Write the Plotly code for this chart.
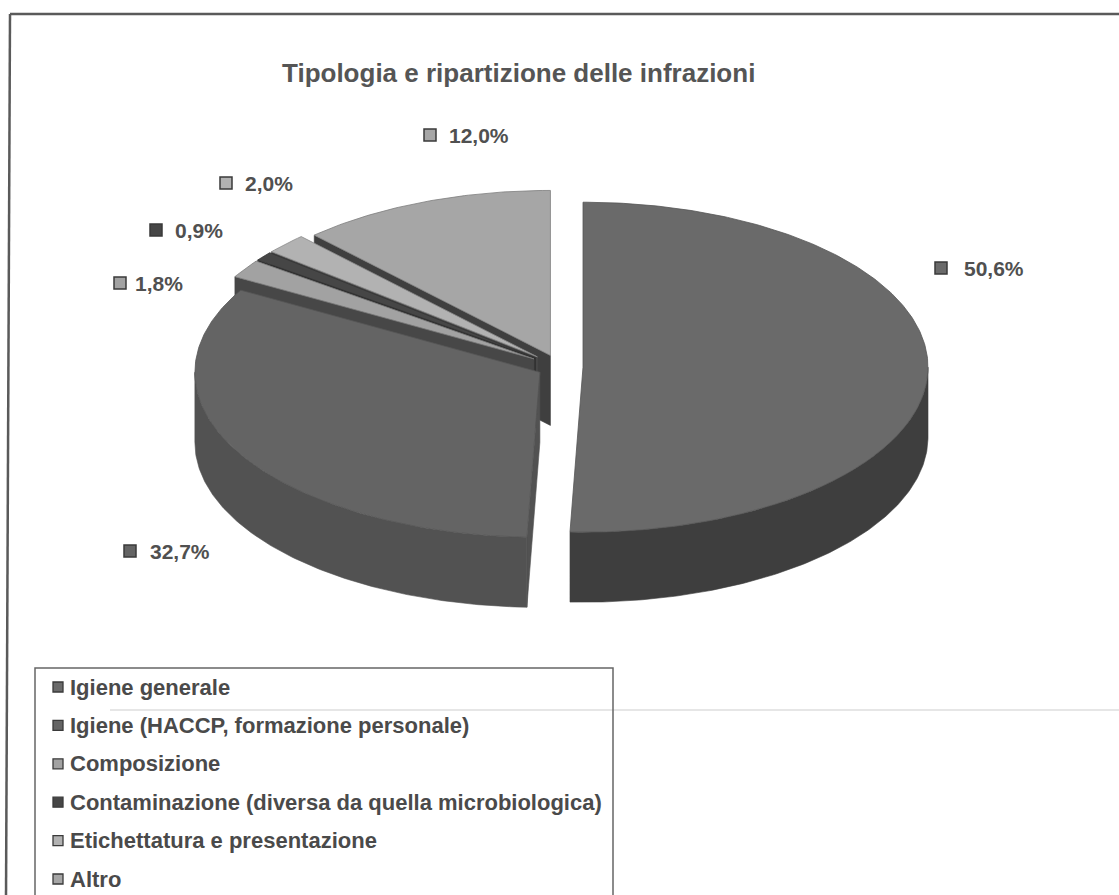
import numpy as np
import plotly.graph_objects as go

# --- data -------------------------------------------------------------
categories = [
    "Igiene generale",
    "Igiene (HACCP, formazione personale)",
    "Composizione",
    "Contaminazione (diversa da quella microbiologica)",
    "Etichettatura e presentazione",
    "Altro",
]
percent = [50.6, 32.7, 1.8, 0.9, 2.0, 12.0]
value_labels = ["50,6%", "32,7%", "1,8%", "0,9%", "2,0%", "12,0%"]
title_text = "Tipologia e ripartizione delle infrazioni"

# --- styling ----------------------------------------------------------
top_colors = ["#6a6a6a", "#646464", "#a2a2a2", "#464646", "#b2b2b2", "#a6a6a6"]
wall_colors = ["#3e3e3e", "#525252", "#474747", "#2e2e2e", "#4a4a4a", "#3f3f3f"]
edge_colors = ["#555555", "#555555", "#7a7a7a", "#333333", "#8a8a8a", "#7e7e7e"]

W, H = 1119, 895
CX, CY = 560, 367          # pie centre (px)
RX, RY = 345, 165          # ellipse radii of the top face
DEPTH = 70                 # thickness of the disc
explode = [23, 23, 31, 31, 31, 26]   # per-slice explosion distance
K = RY / RX

# label anchor positions (marker centre, text left edge, y)
label_pos = [(941, 962, 268), (130, 148, 551), (120, 133, 283),
             (156, 173, 230), (226, 243, 183), (430, 447, 135)]
LABEL_FONT = 21

# legend layout
LEG_X0, LEG_Y0, LEG_X1 = 35, 668, 613
LEG_ROW0, LEG_STEP = 687, 38.4
LEG_MARK_X, LEG_TEXT_X = 58, 68
LEG_FONT = 22

fig = go.Figure()

# --- slice geometry ---------------------------------------------------
fr = np.array(percent) / np.sum(percent)
ends = np.cumsum(fr) * 360.0
starts = np.concatenate([[0.0], ends[:-1]])


def pt(theta_deg, ox, oy, dz=0.0):
    t = np.radians(theta_deg)
    return CX + ox + RX * np.sin(t), CY + oy - RY * np.cos(t) + dz


def arc(a, b, ox, oy, dz=0.0, n=None):
    if n is None:
        n = max(4, int(abs(b - a) * 1.5))
    th = np.linspace(a, b, n)
    return pt(th, ox, oy, dz)


walls = []
tops = []
for i, (a, b) in enumerate(zip(starts, ends)):
    mid = np.radians((a + b) / 2)
    ox = explode[i] * np.sin(mid)
    oy = -explode[i] * K * np.cos(mid)
    cxs, cys = CX + ox, CY + oy

    # top face
    ax, ay = arc(a, b, ox, oy)
    tops.append((np.concatenate([[cxs], ax, [cxs]]),
                 np.concatenate([[cys], ay, [cys]]), i))

    # outer curved wall (front half only)
    lo, hi = max(a, 90.0), min(b, 270.0)
    if hi > lo:
        tx, ty = arc(lo, hi, ox, oy)
        bx, by = arc(hi, lo, ox, oy, DEPTH)
        xs = np.concatenate([tx, bx, tx[:1]])
        ys = np.concatenate([ty, by, ty[:1]])
        walls.append((np.mean(ys), xs, ys, i))

    # radial cut faces
    for th, visible in ((a, np.sin(np.radians(a)) < -1e-6),
                        (b, np.sin(np.radians(b)) > 1e-6)):
        if visible:
            ex, ey = pt(th, ox, oy)
            xs = np.array([cxs, ex, ex, cxs, cxs])
            ys = np.array([cys, ey, ey + DEPTH, cys + DEPTH, cys])
            walls.append((np.mean(ys), xs, ys, i))

for _, xs, ys, i in sorted(walls, key=lambda w: w[0]):
    fig.add_trace(go.Scatter(x=xs, y=ys, mode="lines", fill="toself",
                             fillcolor=wall_colors[i],
                             line=dict(color=wall_colors[i], width=0.6),
                             hoverinfo="skip", showlegend=False))

for xs, ys, i in tops:
    fig.add_trace(go.Scatter(x=xs, y=ys, mode="lines", fill="toself",
                             fillcolor=top_colors[i],
                             line=dict(color=edge_colors[i], width=0.8),
                             hoverinfo="skip", showlegend=False))

# --- data labels ------------------------------------------------------
annotations = []
fig.add_trace(go.Scatter(
    x=[p[0] for p in label_pos], y=[p[2] for p in label_pos], mode="markers",
    marker=dict(symbol="square", size=12, color=top_colors,
                line=dict(color="#3a3a3a", width=1.5)),
    hoverinfo="skip", showlegend=False))
for (mx, tx, ty), txt in zip(label_pos, value_labels):
    annotations.append(dict(x=tx, y=ty, xref="x", yref="y", text=txt,
                            showarrow=False, xanchor="left", yanchor="middle",
                            font=dict(family="Liberation Sans, Arial", size=LABEL_FONT,
                                      color="#505050", weight="bold")))

# --- legend -----------------------------------------------------------
leg_y = [LEG_ROW0 + k * LEG_STEP for k in range(len(categories))]
fig.add_trace(go.Scatter(
    x=[LEG_MARK_X] * len(categories), y=leg_y, mode="markers",
    marker=dict(symbol="square", size=10, color=top_colors,
                line=dict(color="#3a3a3a", width=1.3)),
    hoverinfo="skip", showlegend=False))
for name, y in zip(categories, leg_y):
    annotations.append(dict(x=LEG_TEXT_X, y=y, xref="x", yref="y", text=name,
                            showarrow=False, xanchor="left", yanchor="middle",
                            font=dict(family="Liberation Sans, Arial", size=LEG_FONT,
                                      color="#4a4a4a", weight="bold")))

# title
annotations.append(dict(x=518, y=73, xref="x", yref="y", text=title_text,
                        showarrow=False, xanchor="center", yanchor="middle",
                        font=dict(family="Liberation Sans, Arial", size=26,
                                  color="#555555", weight="bold")))

shapes = [
    # outer frame (top and left edges)
    dict(type="line", x0=10, y0=14, x1=W + 5, y1=14, xref="x", yref="y",
         line=dict(color="#5a5a5a", width=2.5)),
    dict(type="line", x0=10, y0=14, x1=6, y1=H + 5, xref="x", yref="y",
         line=dict(color="#5a5a5a", width=2.5)),
    # legend box
    dict(type="rect", x0=LEG_X0, y0=LEG_Y0, x1=LEG_X1, y1=H + 10, xref="x", yref="y",
         line=dict(color="#666666", width=1.5)),
    # faint horizontal line crossing the page
    dict(type="line", x0=110, y0=710, x1=W, y1=710, xref="x", yref="y",
         line=dict(color="#dedede", width=1.5), layer="below"),
]

fig.update_layout(
    width=W, height=H, margin=dict(l=0, r=0, t=0, b=0),
    paper_bgcolor="white", plot_bgcolor="white",
    xaxis=dict(range=[0, W], visible=False, fixedrange=True),
    yaxis=dict(range=[H, 0], visible=False, fixedrange=True),
    annotations=annotations, shapes=shapes, showlegend=False,
)

fig.write_html("out.html")
